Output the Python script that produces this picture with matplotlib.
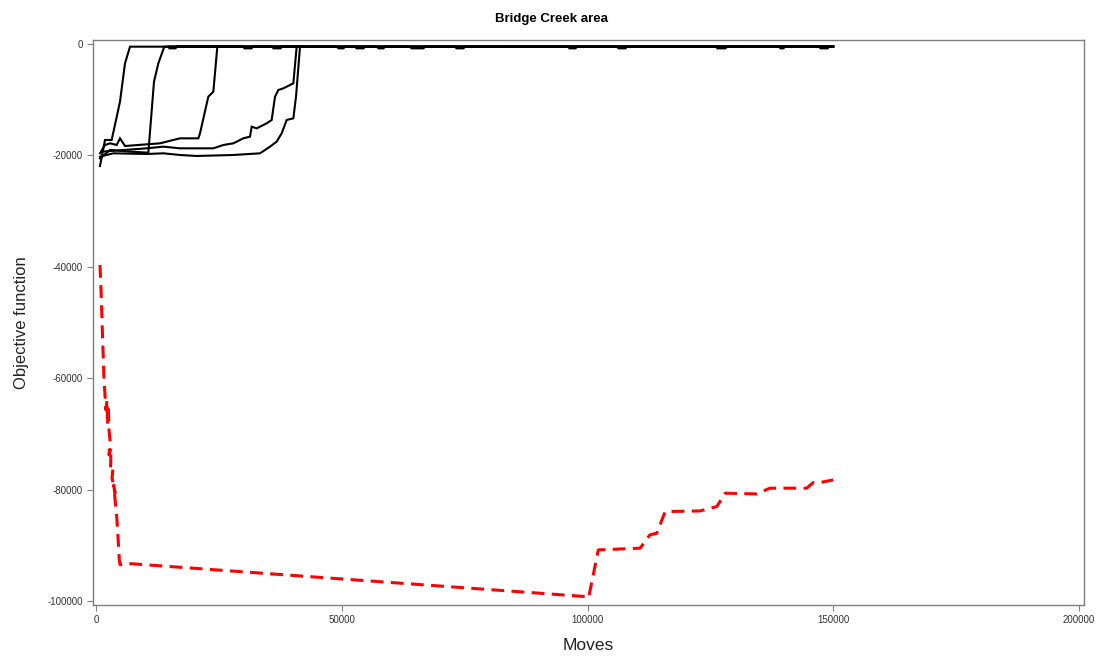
import numpy as np
import matplotlib
matplotlib.use('Agg')
import matplotlib.pyplot as plt

# --- black runs (moves, objective) ---
run_a_x = [814, 1831, 3187, 4883, 5900, 6918, 150000]
run_a_y = [-21900, -17232, -17232, -10350, -3470, -479, -450]

run_b_x = [814, 2848, 6918, 10648, 11800, 12682, 13902, 150000]
run_b_y = [-20523, -19027, -19326, -19506, -6762, -3470, -479, -450]

run_c_x = [814, 1831, 2848, 4205, 4883, 5900, 8613, 13022, 15734, 17091,
           20821, 21160, 22855, 23872, 24686, 150000]
run_c_y = [-19625, -18130, -17830, -18130, -16933, -18310, -18130, -17830,
           -17232, -16933, -16933, -16035, -9454, -8556, -479, -450]

run_d_x = [1153, 10309, 13699, 17091, 23872, 25907, 27941, 29976, 31333,
           31672, 32690, 34724, 35742, 36419, 37098, 38115, 39472, 40149,
           40828, 150000]
run_d_y = [-19326, -18728, -18429, -18728, -18728, -18130, -17830, -16933,
           -16634, -14839, -15138, -14240, -13642, -9454, -8257, -7958,
           -7360, -7060, -479, -450]

run_e_x = [814, 3526, 10309, 13699, 17091, 20482, 27941, 33367, 35402,
           36758, 37776, 38794, 40149, 40692, 41506]
run_e_y = [-20224, -19625, -19745, -19625, -19925, -20104, -19925, -19625,
           -18429, -17532, -16035, -13642, -13343, -9454, -479]

# small dips on the plateau (start, end of each dip)
dip_start = [14650, 29910, 35810, 49030, 52700, 57170, 63890, 73040, 96030,
             106000, 126140, 138960, 147100]
dip_end = [16480, 31940, 37840, 50660, 54730, 58800, 66940, 75080, 97870,
           108030, 128380, 140180, 149140]
plateau_y = -450
dip_y = -780

# --- red run ---
red_x = [814, 1017, 1221, 1424, 1628, 1831, 2035, 2238, 2340, 2500, 2645,
         2848, 2645, 3052, 2950, 3459, 3255, 3866, 3600, 4212, 4476, 4741,
         4900, 6240, 20000, 40000, 60000, 80000, 99500, 100200, 102200,
         110700, 112700, 114100, 115800, 122900, 126300, 128000, 134400,
         137100, 144600, 145900, 147300, 150000]
red_y = [-39670, -44160, -49540, -54930, -60310, -63000, -65700, -63900,
         -68390, -64980, -69290, -71080, -73770, -72520, -76470, -76110,
         -77900, -80600, -79200, -84850, -88490, -92620, -93500, -93250,
         -94130, -95410, -96680, -97950, -99200, -99500, -90830, -90520,
         -88130, -87830, -83950, -83830, -83050, -80650, -80780, -79750,
         -79750, -78740, -78740, -78260]

x_ticks = [0, 50000, 100000, 150000, 200000]
y_ticks = [0, -20000, -40000, -60000, -80000, -100000]

narrow = ['Liberation Sans Narrow', 'Liberation Sans', 'DejaVu Sans']

fig = plt.figure(figsize=(10.96, 6.59), dpi=100)
ax = fig.add_axes([0.0844, 0.0812, 0.9046, 0.8581])

# plateau with dips appended to run E
ex = list(run_e_x)
ey = list(run_e_y)
for a, b in zip(dip_start, dip_end):
    ex += [a, a + 300, b - 300, b]
    ey += [plateau_y, dip_y, dip_y, plateau_y]
ex.append(150000)
ey.append(plateau_y)

for xs, ys in [(run_a_x, run_a_y), (run_b_x, run_b_y), (run_c_x, run_c_y),
               (run_d_x, run_d_y), (ex, ey)]:
    ax.plot(xs, ys, color='black', lw=1.5, solid_joinstyle='miter')

ax.plot(red_x, red_y, color='red', lw=2.2, dashes=(4.2, 2.4))

ax.set_xlim(-712, 201000)
ax.set_ylim(-100810, 720)
ax.set_xticks(x_ticks)
ax.set_yticks(y_ticks)
ax.set_xticklabels([str(v) for v in x_ticks], family=narrow, fontsize=7, color='#333333')
ax.set_yticklabels([str(v) for v in y_ticks], family=narrow, fontsize=7, color='#333333')
ax.tick_params(direction='out', length=4, width=0.8, color='#7f7f7f', pad=3)

for s in ax.spines.values():
    s.set_color('#7f7f7f')
    s.set_linewidth(1.0)

ax.set_xlabel('Moves', family=narrow, fontsize=12.5, labelpad=9, color='#222222')
ax.set_ylabel('Objective function', family=narrow, fontsize=12, labelpad=13, color='#222222')
fig.text(0.503, 0.971, 'Bridge Creek area', ha='center', va='center',
         family=['Liberation Sans', 'DejaVu Sans'], fontsize=9.5, fontweight='bold')

fig.savefig('out.png', dpi=100)
